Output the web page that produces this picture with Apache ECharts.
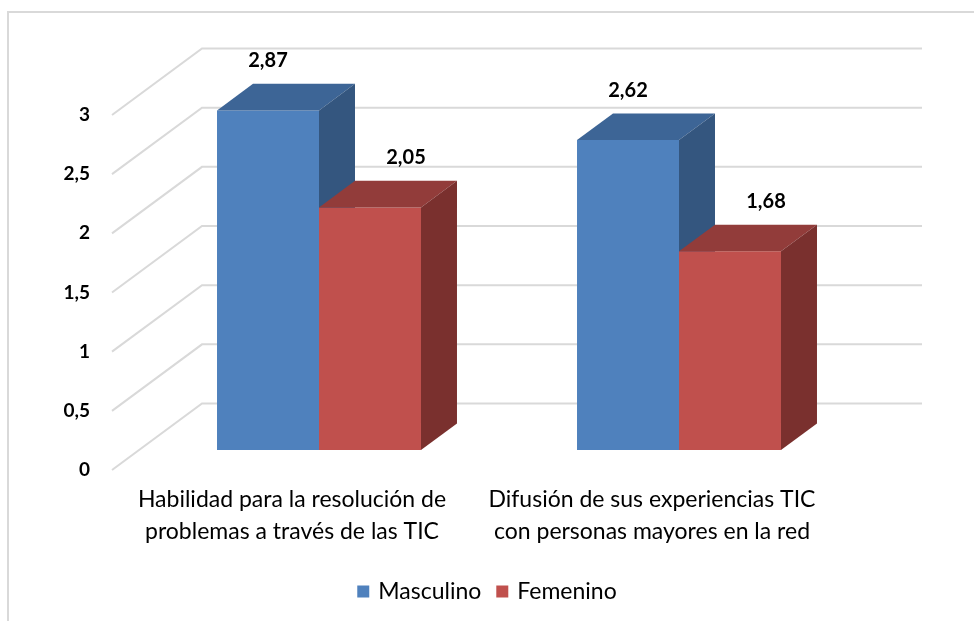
<!DOCTYPE html>
<html>
<head>
<meta charset="utf-8">
<script src="https://cdn.jsdelivr.net/npm/echarts@6/dist/echarts.min.js"></script>
<style>
  html, body { margin: 0; padding: 0; background: #fff; }
  #chart { width: 974px; height: 621px; }
</style>
</head>
<body>
<div id="chart"></div>
<script>
// ---- data ----
const categories = [
  'Habilidad para la resolución de\nproblemas a través de las TIC',
  'Difusión de sus experiencias TIC\ncon personas mayores en la red'
];
const seriesNames = ['Masculino', 'Femenino'];
const masculino = [2.87, 2.62];
const femenino = [2.05, 1.68];
const yTicks = [0, 0.5, 1, 1.5, 2, 2.5, 3];

// ---- style ----
const FONT = 'Lato, "Open Sans", sans-serif';
const DX = 90, DY = -66.5;          // depth vector of the floor
const FRONT_GAP = 0.3, BAR_DEPTH = 0.4;
const BAR_W = 0.2833;               // fraction of category band per bar
const palette = [
  { front: '#4F81BD', top: '#3D6596', side: '#34567F' },
  { front: '#C0504D', top: '#923C3A', side: '#7A302E' }
];
const fmt = v => String(v).replace('.', ',');

const chart = echarts.init(document.getElementById('chart'), null, { renderer: 'canvas' });

function wallItem(params, api) {
  const cs = params.coordSys;
  const v = api.value(1);
  const y = api.coord([0, v])[1];
  const x0 = cs.x;
  return {
    type: 'polyline',
    shape: { points: [[x0, y], [x0 + DX, y + DY], [x0 + cs.width + DX, y + DY]] },
    style: { stroke: '#D9D9D9', lineWidth: 2, fill: null },
    silent: true
  };
}

function barRenderer(si) {
  return function (params, api) {
    const i = api.value(0), v = api.value(1);
    const band = api.size([1, 0])[0];
    const bw = band * BAR_W;
    const base = api.coord([i, 0]);
    const top = api.coord([i, v]);
    const fx = DX * FRONT_GAP, fy = DY * FRONT_GAP;
    const dx = DX * BAR_DEPTH, dy = DY * BAR_DEPTH;
    const left = base[0] - bw + si * bw + fx;
    const right = left + bw;
    const by = base[1] + fy, ty = top[1] + fy;
    const c = palette[si];
    const lx = si === 0 ? left + bw / 2 : left + bw / 2 + dx;
    return {
      type: 'group',
      children: [
        { type: 'rect', shape: { x: left, y: ty, width: bw, height: by - ty }, style: { fill: c.front } },
        { type: 'polygon', shape: { points: [[left, ty], [left + dx, ty + dy], [right + dx, ty + dy], [right, ty]] }, style: { fill: c.top } },
        { type: 'polygon', shape: { points: [[right, ty], [right + dx, ty + dy], [right + dx, by + dy], [right, by]] }, style: { fill: c.side } },
        { type: 'text', x: lx, y: ty + dy - 23, style: { text: fmt(v), textAlign: 'center', textVerticalAlign: 'middle', fill: '#000', font: 'bold 20px ' + FONT } }
      ]
    };
  };
}

const option = {
  backgroundColor: '#fff',
  animation: false,
  graphic: [{
    type: 'rect', silent: true, z: 0,
    shape: { x: 8, y: 12, width: 1000, height: 700 },
    style: { fill: null, stroke: '#D9D9D9', lineWidth: 2 }
  }],
  legend: {
    top: 575, left: 'center',
    icon: 'rect', itemWidth: 12, itemHeight: 12, itemGap: 15,
    textStyle: { fontFamily: FONT, fontSize: 23, color: '#000', padding: [0, 0, 0, 4] },
    data: seriesNames
  },
  grid: { left: 112, right: 142, top: 115, bottom: 151, containLabel: false },
  xAxis: {
    type: 'category', data: categories,
    axisLine: { show: false }, axisTick: { show: false },
    axisLabel: { fontFamily: FONT, fontSize: 23, color: '#000', lineHeight: 32, margin: 14, interval: 0 }
  },
  yAxis: {
    type: 'value', min: 0, max: 3, interval: 0.5,
    axisLine: { show: false }, axisTick: { show: false }, splitLine: { show: false },
    axisLabel: { fontFamily: FONT, fontSize: 19, fontWeight: 'bold', color: '#000', margin: 22, formatter: fmt }
  },
  series: [
    {
      type: 'custom', name: 'wall', silent: true, z: 1,
      renderItem: wallItem,
      data: yTicks.map(v => [0, v])
    },
    {
      type: 'custom', name: seriesNames[0], z: 2,
      itemStyle: { color: palette[0].front },
      renderItem: barRenderer(0),
      data: masculino.map((v, i) => [i, v])
    },
    {
      type: 'custom', name: seriesNames[1], z: 2,
      itemStyle: { color: palette[1].front },
      renderItem: barRenderer(1),
      data: femenino.map((v, i) => [i, v])
    }
  ]
};
chart.setOption(option);
</script>
</body>
</html>
